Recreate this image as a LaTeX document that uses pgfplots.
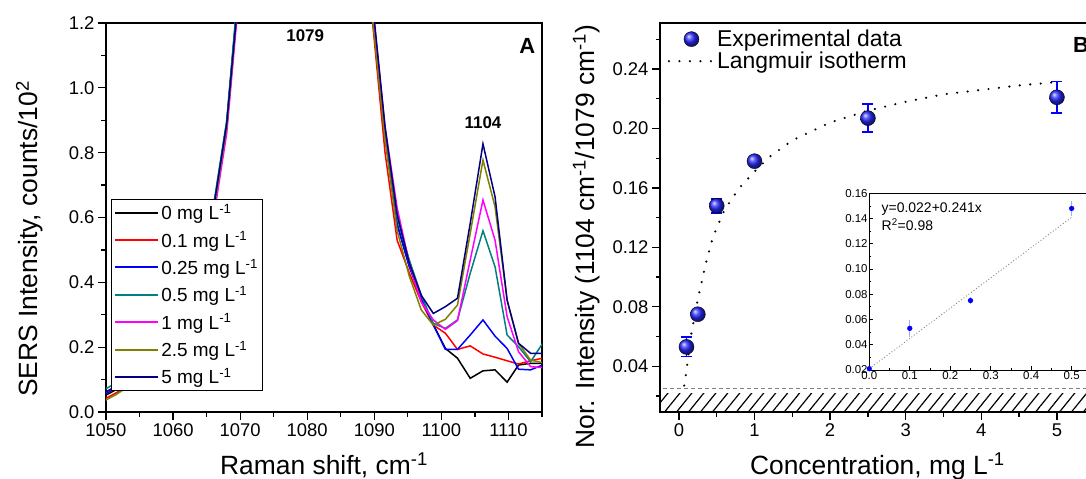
\documentclass[border=0pt]{standalone}
\usepackage{pgfplots}
\pgfplotsset{compat=1.18}
\usepackage{pgfplotstable}
\usepackage{fontspec}
\setmainfont{Liberation Sans}
\usetikzlibrary{patterns.meta}
\definecolor{cteal}{RGB}{0,128,128}
\definecolor{colive}{RGB}{128,128,0}
\definecolor{cnavy}{RGB}{0,0,128}
\definecolor{cmag}{RGB}{255,0,255}
\definecolor{cball}{RGB}{40,40,255}

\pgfplotstableread{
x s0 s01 s025 s05 s1 s25 s5
1049.8 0.050 0.040 0.055 0.070 0.060 0.035 0.060
1051.6 0.070 0.060 0.075 0.090 0.080 0.055 0.080
1053.4 0.090 0.085 0.095 0.110 0.100 0.080 0.100
1055.2 0.120 0.115 0.125 0.140 0.130 0.110 0.130
1057.0 0.160 0.155 0.165 0.180 0.170 0.150 0.170
1058.9 0.210 0.205 0.215 0.230 0.220 0.200 0.220
1060.7 0.280 0.275 0.285 0.300 0.290 0.270 0.290
1062.5 0.370 0.365 0.375 0.390 0.375 0.360 0.380
1064.3 0.480 0.475 0.485 0.500 0.470 0.470 0.490
1066.2 0.650 0.640 0.650 0.660 0.620 0.640 0.650
1068.0 0.890 0.880 0.890 0.900 0.860 0.880 0.890
1069.8 1.32 1.30 1.31 1.33 1.28 1.30 1.30
1071.6 2.20 2.18 2.20 2.22 2.15 2.18 2.20
1073.4 3.30 3.28 3.30 3.32 3.25 3.28 3.30
1075.3 4.50 4.48 4.50 4.52 4.45 4.48 4.50
1077.1 5.50 5.48 5.50 5.52 5.45 5.48 5.50
1078.9 6.00 5.98 6.00 6.02 5.95 5.98 6.00
1080.7 5.60 5.58 5.60 5.62 5.55 5.58 5.60
1082.5 4.60 4.58 4.60 4.62 4.55 4.58 4.60
1084.3 3.40 3.38 3.40 3.42 3.35 3.38 3.40
1086.2 2.40 2.38 2.40 2.42 2.35 2.38 2.40
1088.0 1.70 1.66 1.70 1.72 1.72 1.68 1.74
1089.8 1.22 1.19 1.22 1.23 1.24 1.20 1.25
1091.6 0.86 0.80 0.86 0.87 0.88 0.84 0.88
1093.4 0.58 0.53 0.58 0.60 0.63 0.56 0.61
1095.2 0.45 0.43 0.45 0.47 0.46 0.42 0.46
1097.0 0.35 0.34 0.35 0.36 0.34 0.315 0.36
1098.8 0.270 0.268 0.268 0.273 0.284 0.268 0.304
1100.6 0.196 0.243 0.193 0.258 0.255 0.286 0.325
1102.4 0.166 0.193 0.193 0.284 0.282 0.330 0.351
1104.3 0.104 0.204 0.2375 0.428 0.469 0.551 0.582
1106.2 0.127 0.179 0.284 0.559 0.654 0.777 0.827
1108.0 0.130 0.169 0.234 0.448 0.530 0.633 0.664
1109.8 0.092 0.158 0.196 0.2375 0.294 0.345 0.345
1111.5 0.145 0.148 0.132 0.2015 0.186 0.212 0.212
1113.3 0.150 0.158 0.130 0.155 0.140 0.160 0.181
1115.1 0.150 0.166 0.145 0.212 0.137 0.152 0.181
}\spectra

\pgfplotstableread{
x y e
0.1 0.053 0.0065
0.25 0.075 0.003
0.5 0.148 0.0047
1 0.178 0.003
2.5 0.207 0.0095
5 0.221 0.0105
}\expdata

\pgfplotstableread{
x y
0.07 0.027
0.10 0.037
0.15 0.058
0.25 0.085
0.35 0.108
0.45 0.127
0.60 0.145
0.80 0.160
1.00 0.171
1.20 0.181
1.50 0.192
2.00 0.204
2.50 0.212
3.00 0.218
3.50 0.223
4.00 0.226
4.50 0.229
4.95 0.231
}\langmuir

\pgfplotstableread{
x y e
0 0.021 0
0.1 0.053 0.007
0.25 0.075 0.003
0.5 0.148 0.006
}\insetdata

\pgfplotsset{
  myaxis/.style={
    scale only axis,
    axis line style={line width=1.5bp},
    every tick/.style={line width=1.3bp, black},
    tick align=outside,
    major tick length=8bp,
    minor tick length=4.5bp,
    tick pos=left,
    tick label style={font=\fontsize{18.5}{18.5}\selectfont},
    /pgf/number format/assume math mode=true,
    /pgf/number format/1000 sep={},
    label style={font=\fontsize{26.5}{26.5}\selectfont},
  },
  mylinelegend/.style={legend image code/.code={\draw[##1, line width=2bp] (0bp,0bp) -- (43bp,0bp);}},
  myballlegend/.style={legend image code/.code={\draw[mark repeat=2, mark phase=2, ##1] plot coordinates {(0bp,0bp) (22.5bp,0bp) (45bp,0bp)};}},
  mydotlegend/.style={legend image code/.code={\draw[##1] (0bp,0bp) -- (45bp,0bp);}},
}

\begin{document}
\begin{tikzpicture}
\path[use as bounding box] (0,0) rectangle (1086bp,479bp);
\clip (0,0) rectangle (1086bp,479bp);

% ---------------- Panel A ----------------
\begin{axis}[myaxis,
  at={(106bp,67bp)}, anchor=south west,
  width=436bp, height=389bp,
  xmin=1050, xmax=1115, ymin=0, ymax=1.2,
  xtick={1050,1060,1070,1080,1090,1100,1110},
  minor xtick={1055,1065,1075,1085,1095,1105,1115},
  ytick={0,0.2,0.4,0.6,0.8,1.0,1.2},
  minor ytick={0.1,0.3,0.5,0.7,0.9,1.1},
  yticklabel style={/pgf/number format/.cd, fixed, fixed zerofill, precision=1},
  xlabel={Raman shift, cm\textsuperscript{-1}},
  ylabel={SERS Intensity, counts/10\textsuperscript{2}},
  xlabel style={at={(axis description cs:0.5,0)}, anchor=base, yshift=-62bp},
  ylabel style={at={(axis description cs:-0.175,0.445)}, anchor=center},
  legend style={at={(0.0115,0.5476)}, anchor=north west, draw=black, line width=0.8bp,
    font=\fontsize{19}{19}\selectfont, row sep=6.5bp, inner sep=3bp, fill=white},
  legend cell align=left,
  mylinelegend,
  every axis plot/.append style={line width=1.5bp},
]
\addplot[black] table[x=x, y=s0] {\spectra};
\addlegendentry{0 mg L\textsuperscript{-1}}
\addplot[red] table[x=x, y=s01] {\spectra};
\addlegendentry{0.1 mg L\textsuperscript{-1}}
\addplot[blue] table[x=x, y=s025] {\spectra};
\addlegendentry{0.25 mg L\textsuperscript{-1}}
\addplot[cteal] table[x=x, y=s05] {\spectra};
\addlegendentry{0.5 mg L\textsuperscript{-1}}
\addplot[cmag] table[x=x, y=s1] {\spectra};
\addlegendentry{1 mg L\textsuperscript{-1}}
\addplot[colive] table[x=x, y=s25] {\spectra};
\addlegendentry{2.5 mg L\textsuperscript{-1}}
\addplot[cnavy] table[x=x, y=s5] {\spectra};
\addlegendentry{5 mg L\textsuperscript{-1}}
\node[font=\bfseries\fontsize{17}{17}\selectfont] at (axis cs:1079.7,1.16) {1079};
\node[font=\bfseries\fontsize{17}{17}\selectfont] at (axis cs:1106.2,0.893) {1104};
\node[font=\bfseries\fontsize{22}{22}\selectfont] at (axis cs:1112.8,1.13) {A};
\end{axis}

% ---------------- Panel B ----------------
\begin{axis}[myaxis,
  at={(660bp,67bp)}, anchor=south west,
  width=434.7bp, height=389bp,
  xmin=-0.25, xmax=5.5, ymin=0.0092, ymax=0.271,
  xtick={0,1,2,3,4,5},
  minor xtick={0.5,1.5,2.5,3.5,4.5},
  ytick={0.04,0.08,0.12,0.16,0.20,0.24},
  minor ytick={0.02,0.06,0.10,0.14,0.18,0.22,0.26},
  yticklabel style={/pgf/number format/.cd, fixed, fixed zerofill, precision=2},
  xlabel={Concentration, mg L\textsuperscript{-1}},
  ylabel={Nor. Intensity (1104 cm\textsuperscript{-1}/1079 cm\textsuperscript{-1})},
  xlabel style={at={(axis description cs:0.5,0)}, anchor=base, yshift=-62bp},
  ylabel style={at={(axis description cs:-0.169,0.451)}, anchor=center},
  legend style={at={(0.015,0.99)}, anchor=north west, draw=none, fill=none,
    font=\fontsize{23}{23}\selectfont, row sep=0bp, inner sep=1bp},
  legend cell align=left,
]
\addlegendimage{only marks, mark=ball, mark size=7.5bp, mark options={ball color=cball}, myballlegend}
\addlegendentry{Experimental data}
\addlegendimage{black, line width=2.4bp, line cap=round, dash pattern=on 0bp off 10.5bp, mydotlegend}
\addlegendentry{Langmuir isotherm}

\addplot[forget plot, draw=none, pattern={Lines[angle=51, distance=9.3bp, line width=1.2bp]}, pattern color=black]
  coordinates {(-0.3,0.0218) (5.6,0.0218)} \closedcycle;
\addplot[forget plot, gray, line width=1bp, dash pattern=on 4bp off 3bp]
  coordinates {(-0.3,0.0252) (5.6,0.0252)};
\addplot[forget plot, black, line width=2.4bp, line cap=round, dash pattern=on 0bp off 10.5bp]
  table[x=x, y=y] {\langmuir};
\addplot[forget plot, only marks, mark=ball, mark size=7.5bp, mark options={ball color=cball},
  error bars/.cd, y dir=both, y explicit,
  error bar style={blue, line width=1.6bp},
  error mark options={rotate=90, blue, mark size=5.5bp, line width=1.6bp}]
  table[x=x, y=y, y error=e] {\expdata};
\node[font=\bfseries\fontsize{22}{22}\selectfont] at (axis cs:5.32,0.256) {B};
\end{axis}

% ---------------- Inset ----------------
\begin{axis}[
  at={(869.3bp,109bp)}, anchor=south west,
  scale only axis, width=222.6bp, height=176.7bp,
  xmin=0, xmax=0.55, ymin=0.02, ymax=0.16,
  axis background/.style={fill=white},
  axis line style={line width=0.9bp},
  every tick/.style={line width=0.8bp, black},
  tick align=inside, tick pos=left,
  major tick length=3.5bp, minor tick length=2bp,
  xtick={0,0.1,0.2,0.3,0.4,0.5},
  minor xtick={0.05,0.15,0.25,0.35,0.45},
  ytick={0.02,0.04,0.06,0.08,0.10,0.12,0.14,0.16},
  minor ytick={0.03,0.05,0.07,0.09,0.11,0.13,0.15},
  tick label style={font=\fontsize{11.5}{11.5}\selectfont},
  xticklabel style={inner sep=1.5bp},
  yticklabel style={inner sep=1.5bp},
  /pgf/number format/assume math mode=true,
  xticklabel style={/pgf/number format/.cd, fixed, fixed zerofill, precision=1},
  yticklabel style={/pgf/number format/.cd, fixed, fixed zerofill, precision=2},
]
\addplot[gray, line width=0.9bp, dash pattern=on 0.9bp off 2.2bp] coordinates {(0,0.021) (0.5,0.141)};
\addplot[only marks, mark=*, mark size=2.4bp, blue,
  error bars/.cd, y dir=both, y explicit,
  error bar style={blue!35, line width=1.2bp},
  error mark=none]
  table[x=x, y=y, y error=e] {\insetdata};
\node[anchor=west, font=\fontsize{14}{14}\selectfont] at (axis cs:0.022,0.1476) {y=0.022+0.241x};
\node[anchor=west, font=\fontsize{14}{14}\selectfont] at (axis cs:0.022,0.1349) {R\textsuperscript{2}=0.98};
\end{axis}
\end{tikzpicture}
\end{document}
